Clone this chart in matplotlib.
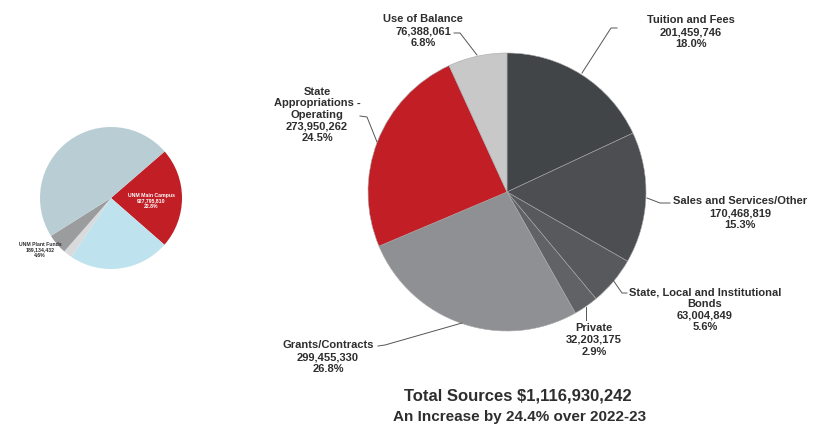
import matplotlib.pyplot as plt

plt.rcParams['font.family'] = ['Liberation Sans', 'DejaVu Sans']

W, H = 825, 428

# main pie: sources by category
src_names = ['Tuition and Fees', 'Sales and Services/Other',
             'State, Local and Institutional\nBonds', 'Private',
             'Grants/Contracts', 'State\nAppropriations -\nOperating',
             'Use of Balance']
src_values = [201459746, 170468819, 63004849, 32203175,
              299455330, 273950262, 76388061]
src_pcts = ['18.0%', '15.3%', '5.6%', '2.9%', '26.8%', '24.5%', '6.8%']
src_colors = ['#424548', '#4c4e51', '#58595c', '#616265',
              '#8f9093', '#c11e26', '#c8c8c8']

# small pie: share by unit
unit_pcts = [22.8, 23.0, 2.0, 4.6, 47.6]
unit_colors = ['#c11e26', '#bfe3ee', '#d8dadb', '#9b9c9e', '#b9ced4']

total_line = 'Total Sources $1,116,930,242'
change_line = 'An Increase by 24.4% over 2022-23'

fig = plt.figure(figsize=(W / 100, H / 100), dpi=100)
ax = fig.add_axes([0, 0, 1, 1])


def Y(y):
    return H - y


ax.pie(src_values, colors=src_colors, startangle=90, counterclock=False,
       center=(507, Y(192)), radius=139,
       wedgeprops=dict(edgecolor='#a8a8a8', linewidth=0.4))

ax.pie(unit_pcts, colors=unit_colors, startangle=40.9, counterclock=False,
       center=(111, Y(198)), radius=71,
       wedgeprops=dict(edgecolor='none', linewidth=0))

# pie() resets the limits, so fix the pixel frame afterwards
ax.set_xlim(0, W)
ax.set_ylim(0, H)
ax.set_aspect('equal')
ax.axis('off')

# label anchors (text centre) and leader line points
label_pos = [(691, 32), (740, 213), (705, 310), (594, 340),
             (328, 357), (317, 115), (423, 31)]
leaders = [
    [(617, 28), (611, 28), (582, 73)],
    [(670, 203), (660, 203), (647, 198)],
    [(627, 293), (622, 293), (613, 280)],
    [(586, 320), (586, 307)],
    [(378, 346), (385, 345), (462, 323)],
    [(360, 116), (367, 117), (377, 142)],
    [(454, 33), (460, 33), (477, 55)],
]

txt = '#2e2e2e'
for name, val, pct, (x, y), pts in zip(src_names, src_values, src_pcts,
                                       label_pos, leaders):
    ax.text(x, Y(y), f'{name}\n{val:,}\n{pct}', ha='center', va='center',
            fontsize=8, fontweight='bold', color=txt, linespacing=1.2)
    ax.plot([p[0] for p in pts], [Y(p[1]) for p in pts],
            color='#555555', lw=0.7)

ax.text(151, Y(201), 'UNM Main Campus\n927,795,810\n22.8%', ha='center',
        va='center', fontsize=3.7, fontweight='bold', color='white',
        linespacing=1.1)
ax.text(40, Y(250), 'UNM Plant Funds\n189,134,432\n4.6%', ha='center',
        va='center', fontsize=3.7, fontweight='bold', color=txt,
        linespacing=1.1)

ax.text(518, Y(396), total_line, ha='center', va='center', fontsize=12,
        fontweight='bold', color=txt)
ax.text(520, Y(417), change_line, ha='center', va='center', fontsize=11,
        fontweight='bold', color=txt)

fig.savefig('out.png', dpi=100)
